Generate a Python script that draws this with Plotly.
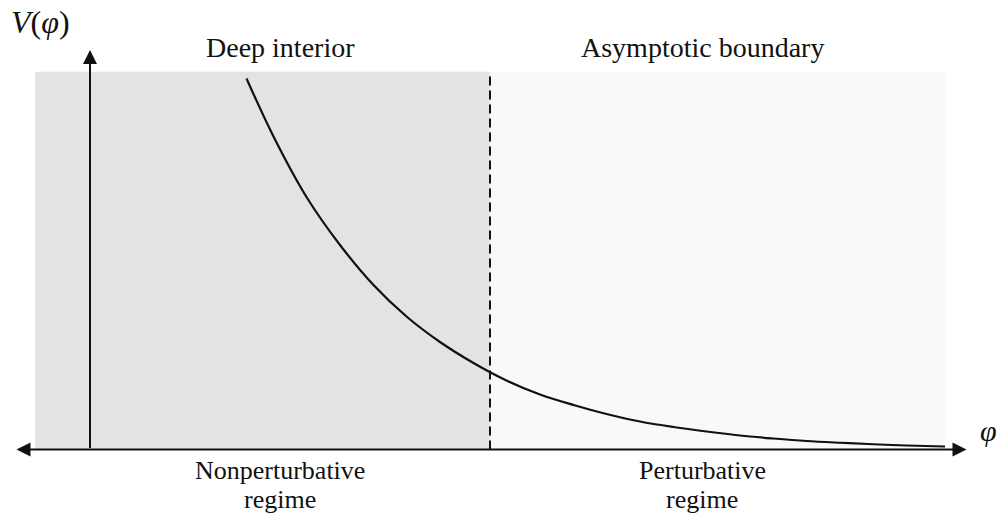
import plotly.graph_objects as go

# Curve V(phi) (phi units, V units)
phi = [3.13, 3.67, 4.33, 5.0, 5.67, 6.33, 7.0, 7.67, 8.33, 9.0, 9.67, 10.33, 11.0,
       11.67, 12.33, 13.0, 13.67, 14.33, 15.0, 15.67, 16.33, 17.1]
V = [7.42, 6.26, 5.05, 4.09, 3.29, 2.66, 2.15, 1.73, 1.38, 1.10, 0.89, 0.71, 0.56,
     0.45, 0.36, 0.28, 0.22, 0.17, 0.135, 0.105, 0.08, 0.06]

# Regions
region_left = [-1.1, 8.0]
region_right = [8.0, 17.1]
region_top = 7.556
region_colors = ["#e3e3e3", "#f9f9f9"]
top_labels = ["Deep interior", "Asymptotic boundary"]
bottom_line1 = ["Nonperturbative", "Perturbative"]
bottom_line2 = ["regime", "regime"]

FONT = "Liberation Serif"
INK = "#111111"

fig = go.Figure()
fig.add_trace(go.Scatter(x=phi, y=V, mode="lines",
                         line=dict(color=INK, width=2.2, shape="spline", smoothing=1.0),
                         hoverinfo="skip", showlegend=False))

for (x0, x1), col in zip([region_left, region_right], region_colors):
    fig.add_shape(type="rect", x0=x0, x1=x1, y0=0, y1=region_top,
                  fillcolor=col, line=dict(width=0), layer="below")

fig.add_shape(type="line", x0=region_left[1], x1=region_left[1], y0=0, y1=region_top,
              line=dict(color=INK, width=2, dash="9px,5px"), layer="above")

# axes with arrows
fig.add_annotation(x=0, y=7.99, ax=0, ay=0, xref="x", yref="y", axref="x", ayref="y",
                   text="", showarrow=True, arrowhead=2, arrowsize=1.4, arrowwidth=2,
                   arrowcolor=INK, standoff=0, startstandoff=0)
fig.add_annotation(x=17.53, y=0, ax=-1.5, ay=0, xref="x", yref="y", axref="x", ayref="y",
                   text="", showarrow=True, arrowhead=2, startarrowhead=2, arrowside="end+start",
                   arrowsize=1.4, startarrowsize=1.4, arrowwidth=2,
                   arrowcolor=INK, standoff=0, startstandoff=0)

centers = [3.8, 12.24]
for cx, t in zip(centers, top_labels):
    fig.add_annotation(x=cx, y=8.05, text=t, showarrow=False,
                       font=dict(family=FONT, size=28, color=INK))
for cx, t1, t2 in zip(centers, bottom_line1, bottom_line2):
    fig.add_annotation(x=cx, y=-0.42, text=t1, showarrow=False,
                       font=dict(family=FONT, size=26, color=INK))
    fig.add_annotation(x=cx, y=-0.99, text=t2, showarrow=False,
                       font=dict(family=FONT, size=26, color=INK))

fig.add_annotation(x=-1.0, y=8.55, text="<i>V</i>(<i>φ</i>)", showarrow=False,
                   font=dict(family=FONT, size=32, color=INK))
fig.add_annotation(x=17.96, y=0.39, text="<i>φ</i>", showarrow=False,
                   font=dict(family=FONT, size=30, color=INK))

fig.update_xaxes(range=[-1.8, 18.16], visible=False, fixedrange=True)
fig.update_yaxes(range=[-1.31, 8.99], visible=False, fixedrange=True)
fig.update_layout(width=998, height=515, margin=dict(l=0, r=0, t=0, b=0),
                  plot_bgcolor="white", paper_bgcolor="white", showlegend=False)

fig.write_html("out.html", config={"displayModeBar": False},
               post_script="document.body.style.margin='0px';document.body.style.overflow='hidden';")
